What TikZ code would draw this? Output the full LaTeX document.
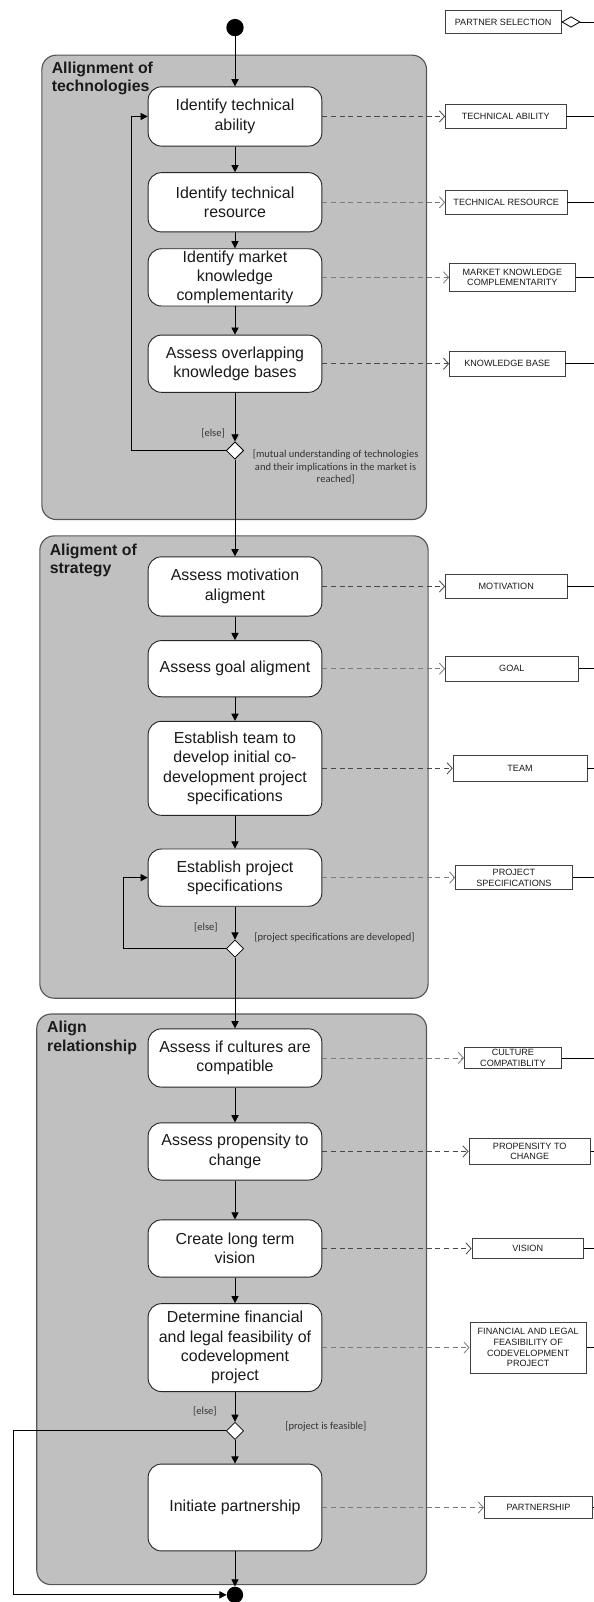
\documentclass[tikz,border=0pt]{standalone}
\usepackage{fontspec}
\setmainfont{Liberation Sans}
\newfontfamily\guardfont{Carlito}
\usetikzlibrary{arrows.meta,shapes.geometric}
\definecolor{groupfill}{HTML}{C0C0C0}
\definecolor{groupline}{HTML}{555555}
\definecolor{darkdash}{HTML}{474747}
\definecolor{lightdash}{HTML}{7A7A7A}
\definecolor{inktext}{HTML}{1A1A1A}
\begin{document}
\begin{tikzpicture}[x=1pt,y=-1pt,
  group/.style={draw=groupline,fill=groupfill,line width=1.1pt,rounded corners=14pt},
  grouptitle/.style={anchor=north west,inner sep=0pt,align=left,text=inktext,
    font=\fontsize{15.5}{18}\selectfont\bfseries},
  act/.style={draw=black!85,fill=white,line width=0.9pt,rounded corners=13pt,
    minimum width=170pt,inner sep=0pt,align=center,text=inktext,
    font=\fontsize{15.6}{19}\selectfont},
  obj/.style={draw=black!75,fill=white,line width=0.8pt,inner sep=0pt,align=center,
    text=inktext,font=\fontsize{8.9}{10.4}\selectfont},
  decision/.style={diamond,draw=black,fill=white,line width=0.8pt,inner sep=0pt,
    minimum width=17pt,minimum height=17pt},
  dot/.style={circle,fill=black,inner sep=0pt,minimum size=16pt},
  guard/.style={inner sep=0pt,align=center,text=black!80,
    font=\guardfont\fontsize{10.3}{12.3}\selectfont},
  flow/.style={draw=black,line width=0.8pt,-{Triangle[length=7pt,width=7pt]}},
  dep/.style={draw=darkdash,line width=0.8pt,dash pattern=on 5pt off 3.5pt,
    -{Straight Barb[length=5pt,width=11pt]}},
  deplight/.style={dep,draw=lightdash},
  link/.style={draw=black,line width=0.8pt}
]
\useasboundingbox (0,0) rectangle (581,1568);

% swimlane-like activity groups
\draw[group] (41,54) rectangle (417.5,508.5);
\draw[group] (39,524.5) rectangle (419,977);
\draw[group] (36,992.5) rectangle (417.5,1551);

\node[grouptitle] (t1) at (50.5,60.5) {Allignment of\\technologies};
\node[grouptitle] (t2) at (48.5,532) {Aligment of\\strategy};
\node[grouptitle] (t3) at (46,999.5) {Align\\relationship};

% right edge for the object links
\coordinate (edge) at (583,0);

% start
\node[dot,minimum size=17pt] (start) at (230,27) {};

% first group
\node[act,minimum height=58pt] (a1) at (230,114) {Identify technical\\ability};
\node[act,minimum height=58pt] (a2) at (230,198) {Identify technical\\resource};
\node[act,minimum height=56pt,font=\fontsize{15.6}{18.4}\selectfont] (a3) at (230,271.5) {Identify market\\knowledge\\complementarity};
\node[act,minimum height=56pt] (a4) at (230,356) {Assess overlapping\\knowledge bases};
\node[decision] (d1) at (230,441) {};

% second group
\node[act,minimum height=58pt] (b1) at (230,574) {Assess motivation\\aligment};
\node[act,minimum height=55pt] (b2) at (230,654.5) {Assess goal aligment};
\node[act,minimum height=92pt] (b3) at (230,752) {Establish team to\\develop initial co-\\development project\\specifications};
\node[act,minimum height=56pt] (b4) at (230,859) {Establish project\\specifications};
\node[decision] (d2) at (230,928.5) {};

% third group
\node[act,minimum height=57pt] (c1) at (230,1035.5) {Assess if cultures are\\compatible};
\node[act,minimum height=56pt] (c2) at (230,1127) {Assess propensity to\\change};
\node[act,minimum height=56pt] (c3) at (230,1222) {Create long term\\vision};
\node[act,minimum height=86pt] (c4) at (230,1319) {Determine financial\\and legal feasibility of\\codevelopment\\project};
\node[decision] (d3) at (230,1400.5) {};
\node[act,minimum height=85pt] (c5) at (230,1475.5) {Initiate partnership};

% end
\node[dot] (stop) at (230,1561) {};

% guards
\node[guard] (e1) at (208.5,424) {[else]};
\node[guard] (g1) at (328.5,457.3) {[mutual understanding of technologies\\and their implications in the market is\\reached]};
\node[guard] (e2) at (201.5,908) {[else]};
\node[guard] (g2) at (327.5,917.5) {[project specifications are developed]};
\node[guard] (e3) at (200.5,1381.5) {[else]};
\node[guard] (g3) at (319,1396.5) {[project is feasible]};

% objects
\node[obj,minimum width=113pt,minimum height=22pt] (ps) at (492.5,21.5) {PARTNER SELECTION};
\node[obj,minimum width=118pt,minimum height=24pt] (oa1) at (495,114) {TECHNICAL ABILITY};
\node[obj,minimum width=119pt,minimum height=23pt] (oa2) at (495.5,198) {TECHNICAL RESOURCE};
\node[obj,minimum width=123pt,minimum height=27pt] (oa3) at (501.5,271.5) {MARKET KNOWLEDGE\\COMPLEMENTARITY};
\node[obj,minimum width=113pt,minimum height=24pt] (oa4) at (496.5,356) {KNOWLEDGE BASE};
\node[obj,minimum width=119pt,minimum height=23pt] (ob1) at (495.5,574) {MOTIVATION};
\node[obj,minimum width=130pt,minimum height=24pt] (ob2) at (501,654.5) {GOAL};
\node[obj,minimum width=131pt,minimum height=26pt] (ob3) at (509,752) {TEAM};
\node[obj,minimum width=114pt,minimum height=24pt] (ob4) at (503,859) {PROJECT\\SPECIFICATIONS};
\node[obj,minimum width=95pt,minimum height=21pt] (oc1) at (502,1035.5) {CULTURE\\COMPATIBLITY};
\node[obj,minimum width=119pt,minimum height=25pt] (oc2) at (518.5,1127) {PROPENSITY TO\\CHANGE};
\node[obj,minimum width=109pt,minimum height=20pt] (oc3) at (516.5,1222) {VISION};
\node[obj,minimum width=114pt,minimum height=50pt] (oc4) at (517,1319) {FINANCIAL AND LEGAL\\FEASIBILITY OF\\CODEVELOPMENT\\PROJECT};
\node[obj,minimum width=106pt,minimum height=21pt] (oc5) at (527,1475.5) {PARTNERSHIP};

% control flow
\draw[flow] (start) -- (a1);
\draw[flow] (a1) -- (a2);
\draw[flow] (a2) -- (a3);
\draw[flow] (a3) -- (a4);
\draw[flow] (a4) -- (d1);
\coordinate (loop1) at (129,0);
\draw[flow] (d1.west) -- (d1.west -| loop1) -- (a1.west -| loop1) -- (a1.west);
\draw[flow] (d1) -- (b1);
\draw[flow] (b1) -- (b2);
\draw[flow] (b2) -- (b3);
\draw[flow] (b3) -- (b4);
\draw[flow] (b4) -- (d2);
\coordinate (loop2) at (121,0);
\draw[flow] (d2.west) -- (d2.west -| loop2) -- (b4.west -| loop2) -- (b4.west);
\draw[flow] (d2) -- (c1);
\draw[flow] (c1) -- (c2);
\draw[flow] (c2) -- (c3);
\draw[flow] (c3) -- (c4);
\draw[flow] (c4) -- (d3);
\draw[flow] (d3) -- (c5);
\draw[flow] (c5) -- (stop);
\coordinate (loop3) at (13,0);
\draw[flow] (d3.west) -- (d3.west -| loop3) -- (stop.west -| loop3) -- (stop.west);

% object flows
\draw[dep] (a1.east) -- (a1.east -| oa1.west);
\draw[deplight] (a2.east) -- (a2.east -| oa2.west);
\draw[deplight] (a3.east) -- (a3.east -| oa3.west);
\draw[dep] (a4.east) -- (a4.east -| oa4.west);
\draw[dep] (b1.east) -- (b1.east -| ob1.west);
\draw[deplight] (b2.east) -- (b2.east -| ob2.west);
\draw[dep] (b3.east) -- (b3.east -| ob3.west);
\draw[deplight] (b4.east) -- (b4.east -| ob4.west);
\draw[deplight] (c1.east) -- (c1.east -| oc1.west);
\draw[dep] (c2.east) -- (c2.east -| oc2.west);
\draw[dep] (c3.east) -- (c3.east -| oc3.west);
\draw[deplight] (c4.east) -- (c4.east -| oc4.west);
\draw[deplight] (c5.east) -- (c5.east -| oc5.west);

% links from the objects to the aggregate
\draw[link,{Diamond[open,length=19pt,width=11pt,line width=0.8pt]}-] (ps.east) -- (ps.east -| edge);
\foreach \o in {oa1,oa2,oa3,oa4,ob1,ob2,ob3,ob4,oc1,oc2,oc3,oc4,oc5}
  \draw[link] (\o.east) -- (\o.east -| edge);
\end{tikzpicture}
\end{document}
